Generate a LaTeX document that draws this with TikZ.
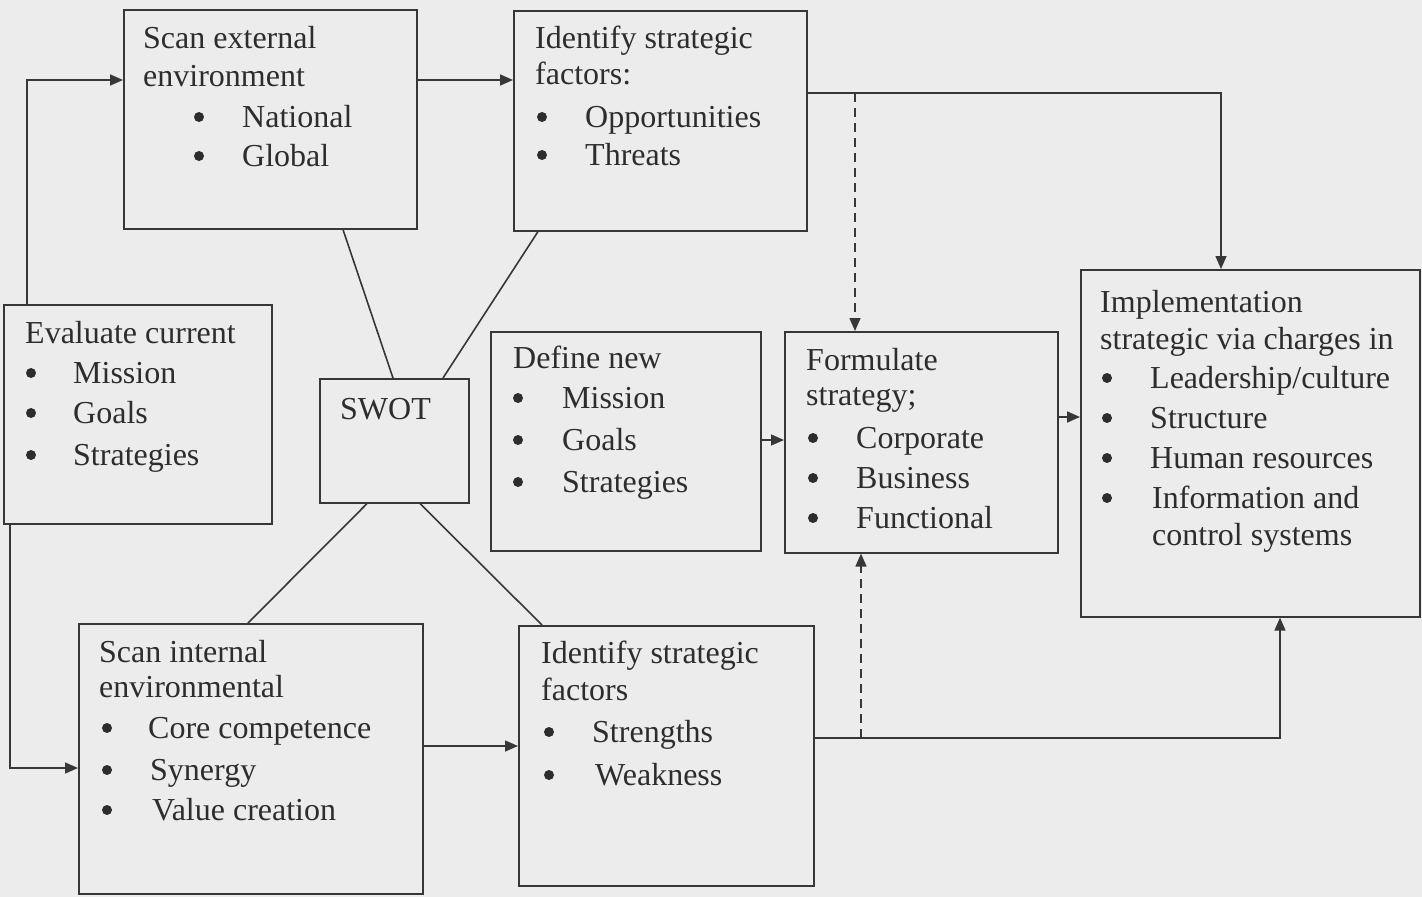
\documentclass[tikz,border=0pt]{standalone}
\usepackage{fontspec}
\setmainfont{Liberation Serif}
\usetikzlibrary{arrows.meta,calc}
\definecolor{paper}{RGB}{236,236,236}
\definecolor{ink}{RGB}{55,55,55}
\definecolor{inktext}{RGB}{45,45,45}
\tikzset{
  box/.style={draw=ink, line width=1.6pt, anchor=north west, inner sep=0pt},
  ln/.style={draw=ink, line width=1.6pt},
  arr/.style={ln, -{Triangle[length=13pt,width=11pt]}},
  dsh/.style={dash pattern=on 9pt off 6pt},
  txt/.style={anchor=base west, inner sep=0pt, text=inktext, font=\fontsize{32}{38}\selectfont},
  dot/.style={circle, fill=inktext, inner sep=0pt, minimum size=10pt},
}
\newcommand{\mybox}[5]{\node[box, minimum width=#4pt-#2pt, minimum height=#5pt-#3pt] (#1) at (#2,#3) {};}
\begin{document}
\begin{tikzpicture}[x=1pt,y=-1pt]
\useasboundingbox (0,0) rectangle (1422,897);
\fill[paper] (0,0) rectangle (1422,897);

% boxes
\mybox{ext}{123}{9}{416}{228}
\mybox{opp}{513}{10}{806}{230}
\mybox{eval}{3}{304}{271}{523}
\mybox{swot}{319}{378}{468}{502}
\mybox{def}{490}{331}{760}{550}
\mybox{form}{784}{331}{1057}{552}
\mybox{impl}{1080}{269}{1419}{616}
\mybox{int}{78}{623}{422}{893}
\mybox{str}{518}{625}{813}{885}

% texts: Scan external
\node[txt] (e1) at (143,48) {Scan external};
\node[txt] (e2) at (143,86) {environment};
\node[dot] (e3b) at (199,117) {};
\node[txt] (e3) at (242,127) {National};
\node[dot] (e4b) at (199,156) {};
\node[txt] (e4) at (242,166) {Global};

% Identify O/T
\node[txt] (o1) at (535,48) {Identify strategic};
\node[txt] (o2) at (535,84) {factors:};
\node[dot] (o3b) at (542,117) {};
\node[txt] (o3) at (585,127) {Opportunities};
\node[dot] (o4b) at (542,155) {};
\node[txt] (o4) at (585,165) {Threats};

% Evaluate current
\node[txt] (v1) at (25,343) {Evaluate current};
\node[dot] (v2b) at (31,373) {};
\node[txt] (v2) at (73,383) {Mission};
\node[dot] (v3b) at (31,413) {};
\node[txt] (v3) at (73,423) {Goals};
\node[dot] (v4b) at (31,455) {};
\node[txt] (v4) at (73,465) {Strategies};

% SWOT
\node[txt] (s1) at (340,419) {SWOT};

% Define new
\node[txt] (d1) at (513,368) {Define new};
\node[dot] (d2b) at (518,398) {};
\node[txt] (d2) at (562,408) {Mission};
\node[dot] (d3b) at (518,440) {};
\node[txt] (d3) at (562,450) {Goals};
\node[dot] (d4b) at (518,482) {};
\node[txt] (d4) at (562,492) {Strategies};

% Formulate
\node[txt] (f1) at (806,370) {Formulate};
\node[txt] (f2) at (806,405) {strategy;};
\node[dot] (f3b) at (813,438) {};
\node[txt] (f3) at (856,448) {Corporate};
\node[dot] (f4b) at (813,478) {};
\node[txt] (f4) at (856,488) {Business};
\node[dot] (f5b) at (813,518) {};
\node[txt] (f5) at (856,528) {Functional};

% Implementation
\node[txt] (m1) at (1100,312) {Implementation};
\node[txt] (m2) at (1100,349) {strategic via charges in};
\node[dot] (m3b) at (1107,378) {};
\node[txt] (m3) at (1150,388) {Leadership/culture};
\node[dot] (m4b) at (1107,418) {};
\node[txt] (m4) at (1150,428) {Structure};
\node[dot] (m5b) at (1107,458) {};
\node[txt] (m5) at (1150,468) {Human resources};
\node[dot] (m6b) at (1107,498) {};
\node[txt] (m6) at (1152,508) {Information and};
\node[txt] (m7) at (1152,545) {control systems};

% Scan internal
\node[txt] (i1) at (99,662) {Scan internal};
\node[txt] (i2) at (99,697) {environmental};
\node[dot] (i3b) at (107,728) {};
\node[txt] (i3) at (148,738) {Core competence};
\node[dot] (i4b) at (107,770) {};
\node[txt] (i4) at (150,780) {Synergy};
\node[dot] (i5b) at (107,810) {};
\node[txt] (i5) at (152,820) {Value creation};

% Identify S/W
\node[txt] (w1) at (541,663) {Identify strategic};
\node[txt] (w2) at (541,700) {factors};
\node[dot] (w3b) at (549,732) {};
\node[txt] (w3) at (592,742) {Strengths};
\node[dot] (w4b) at (549,775) {};
\node[txt] (w4) at (595,785) {Weakness};

% helper coordinates
\coordinate (lx1) at (27,80);
\coordinate (lx2) at (10,768);
\coordinate (tr) at (1221,93);
\coordinate (dt) at (855,93);
\coordinate (br) at (1280,738);
\coordinate (db) at (861,738);
\coordinate (y440) at (0,440);
\coordinate (y417) at (0,417);
\coordinate (y746) at (0,746);

% connectors
\draw[arr] (lx1 |- eval.north) -- (lx1) -- (lx1 -| ext.west);
\draw[arr] (lx2 |- eval.south) -- (lx2) -- (lx2 -| int.west);
\draw[arr] (lx1 -| ext.east) -- (lx1 -| opp.west);
\draw[arr] (tr -| opp.east) -- (tr) -- (tr |- impl.north);
\draw[arr,dsh] (dt) -- (dt |- form.north);
\draw[arr] (def.east |- y440) -- (form.west |- y440);
\draw[arr] (form.east |- y417) -- (impl.west |- y417);
\draw[arr] (int.east |- y746) -- (str.west |- y746);
\draw[arr] (br -| str.east) -- (br) -- (br |- impl.south);
\draw[arr,dsh] (db) -- (db |- form.south);

% SWOT links
\draw[ln] ($(ext.south west)+(220,0)$) -- ($(swot.north west)+(74,0)$);
\draw[ln] ($(opp.south west)+(25,0)$) -- ($(swot.north west)+(124,0)$);
\draw[ln] ($(swot.south west)+(48,0)$) -- ($(int.north west)+(170,0)$);
\draw[ln] ($(swot.south west)+(101,0)$) -- ($(str.north west)+(24,0)$);
\end{tikzpicture}
\end{document}
